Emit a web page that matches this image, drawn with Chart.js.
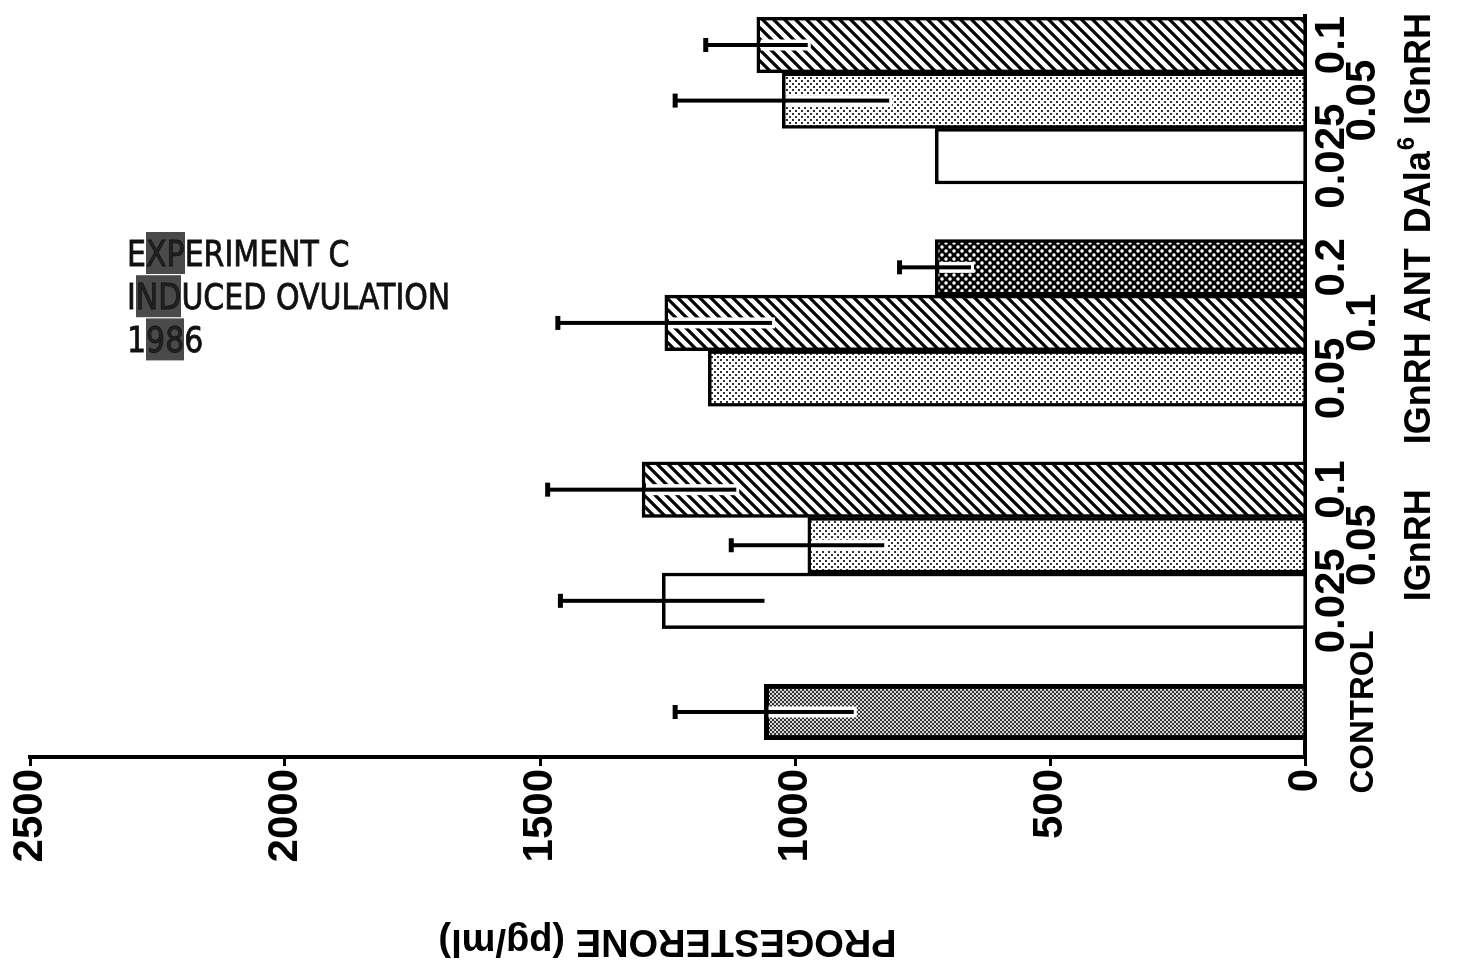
<!DOCTYPE html>
<html>
<head>
<meta charset="utf-8">
<title>Progesterone - Experiment C</title>
<script src="https://cdn.jsdelivr.net/npm/chart.js@4.4.1/dist/chart.umd.min.js"></script>
<style>
  html, body { margin: 0; padding: 0; background: #fff; overflow: hidden; }
  body { width: 1462px; height: 973px; position: relative; }
  /* the figure is printed turned a quarter turn, so the canvas is built upright and turned */
  #turn { position: absolute; left: 0; top: 0; width: 973px; height: 1462px;
          transform-origin: 0 0; transform: translateY(973px) rotate(-90deg); }
  #note { position: absolute; left: 127px; top: 232px; font-family: "DejaVu Sans", sans-serif;
          font-size: 30px; line-height: 36px; color: #111; -webkit-text-stroke: 0.7px #111;
          transform: scaleY(1.2); transform-origin: 0 0; white-space: nowrap; }
  .blot { background: #4a4a4a; color: #222; }
</style>
</head>
<body>
<div id="turn"><canvas id="progChart" width="973" height="1462"></canvas></div>
<div id="note">E<span class="blot">XP</span>ERIMENT C<br>I<span class="blot">ND</span>UCED OVULATION<br>1<span class="blot">98</span>6</div>
<script>
// data
const categories = ['CONTROL', '', '0.025', '0.05', '0.1', '', '0.05', '0.1', '0.2', '', '0.025', '0.05', '0.1'];
const progesterone = [1060, null, 1260, 975, 1300, null, 1170, 1255, 725, null, 725, 1025, 1075];
const sem = [175, null, 200, 150, 185, null, 0, 210, 70, null, 0, 210, 100];
const groupNames = ['IGnRH', 'IGnRH ANT', 'DAla⁶ IGnRH'];
const groupFirst = [2, 6, 10];
const groupLast = [4, 8, 12];
const valueTicks = [0, 500, 1000, 1500, 2000, 2500];

// looks
const fills = ['control', null, 'open', 'dots', 'hatch', null, 'dots', 'hatch', 'cross', null, 'open', 'dots', 'hatch'];
const labelRow = [1, 0, 0, 1, 0, 0, 0, 1, 0, 0, 0, 1, 0];
const FONT = '"Liberation Sans", Arial, sans-serif';

function makePattern(kind) {
    if (kind === 'open') return '#ffffff';
    const c = document.createElement('canvas');
    const g = c.getContext('2d');
    if (kind === 'dots') {
        c.width = c.height = 6;
        g.fillStyle = '#fff'; g.fillRect(0, 0, 6, 6);
        g.fillStyle = '#333'; g.fillRect(0, 0, 2, 2); g.fillRect(3, 3, 2, 2);
    } else if (kind === 'control') {
        c.width = c.height = 4;
        g.fillStyle = '#d8d8d8'; g.fillRect(0, 0, 4, 4);
        g.fillStyle = '#333'; g.fillRect(0, 0, 2, 2); g.fillRect(2, 2, 2, 2);
    } else if (kind === 'hatch') {
        c.width = c.height = 11;
        g.fillStyle = '#fff'; g.fillRect(0, 0, 11, 11);
        g.strokeStyle = '#000'; g.lineWidth = 3.2;
        g.beginPath();
        g.moveTo(0, 11); g.lineTo(11, 0);
        g.moveTo(-2, 2); g.lineTo(2, -2);
        g.moveTo(9, 13); g.lineTo(13, 9);
        g.stroke();
    } else if (kind === 'cross') {
        c.width = c.height = 8;
        g.fillStyle = '#000'; g.fillRect(0, 0, 8, 8);
        g.fillStyle = '#fff';
        g.beginPath(); g.arc(2, 2, 1.8, 0, Math.PI * 2); g.fill();
        g.beginPath(); g.arc(6, 6, 1.8, 0, Math.PI * 2); g.fill();
    }
    return g.createPattern(c, 'repeat');
}

const patterns = {};
['open', 'dots', 'control', 'hatch', 'cross'].forEach(k => patterns[k] = makePattern(k));

const barData = [];
progesterone.forEach((v, i) => {
    if (v !== null) barData.push({x: i, y: v, err: sem[i]});
});

// error bars: line through the bar end, cap on the outer end
const errorBars = {
    id: 'errorBars',
    afterDatasetsDraw(chart) {
        const meta = chart.getDatasetMeta(0);
        const y = chart.scales.y;
        const ctx = chart.ctx;
        ctx.save();
        meta.data.forEach((bar, i) => {
            const d = chart.data.datasets[0].data[i];
            if (!d.err) return;
            const hi = y.getPixelForValue(d.y + d.err);
            const lo = y.getPixelForValue(d.y - d.err);
            if (fills[d.x] !== 'open') {
                ctx.strokeStyle = '#fff';
                ctx.lineWidth = 11;
                ctx.beginPath(); ctx.moveTo(bar.x, bar.y + 4); ctx.lineTo(bar.x, lo + 3); ctx.stroke();
            }
            ctx.strokeStyle = '#000';
            ctx.lineWidth = 4;
            ctx.beginPath(); ctx.moveTo(bar.x, hi); ctx.lineTo(bar.x, lo); ctx.stroke();
            ctx.lineWidth = 5;
            ctx.beginPath(); ctx.moveTo(bar.x - 7, hi); ctx.lineTo(bar.x + 7, hi); ctx.stroke();
        });
        ctx.restore();
    }
};

// split a group name so the "6" after DAla can be raised
function runsOf(name) {
    const runs = [];
    name.split('⁶').forEach((part, j) => {
        if (j > 0) runs.push({t: '6', sup: true});
        if (part) runs.push({t: part, sup: false});
    });
    return runs;
}

// group names under the dose labels, kept apart from each other
const groupLabels = {
    id: 'groupLabels',
    afterDraw(chart) {
        const x = chart.scales.x;
        const ctx = chart.ctx;
        const big = 'bold 36px ' + FONT;
        const small = 'bold 24px ' + FONT;
        ctx.save();
        ctx.fillStyle = '#000';
        ctx.textBaseline = 'middle';
        ctx.textAlign = 'left';
        let limit = chart.width - 13;
        for (let g = groupNames.length - 1; g >= 0; g--) {
            const runs = runsOf(groupNames[g]);
            let w = 0;
            runs.forEach(r => {
                ctx.font = r.sup ? small : big;
                r.w = ctx.measureText(r.t).width + (r.sup ? 3 : 0);
                w += r.w;
            });
            let cx = x.getPixelForValue((groupFirst[g] + groupLast[g]) / 2);
            cx = Math.min(cx, limit - w / 2);
            let px = cx - w / 2;
            limit = px - 15;
            const py = x.top + 115;
            runs.forEach(r => {
                ctx.font = r.sup ? small : big;
                ctx.fillText(r.t, px + (r.sup ? 1 : 0), r.sup ? py - 13 : py);
                px += r.w;
            });
        }
        ctx.restore();
    }
};

Chart.defaults.font.family = FONT;
Chart.defaults.font.weight = 'bold';
Chart.defaults.color = '#000';

new Chart('progChart', {
    type: 'bar',
    data: {
        datasets: [{
            data: barData,
            backgroundColor: (c) => patterns[fills[c.raw.x]],
            borderColor: '#000',
            borderWidth: (c) => fills[c.raw.x] === 'control' ? 5 : 3.5,
            borderSkipped: 'start',
            barPercentage: 1,
            categoryPercentage: 1
        }]
    },
    options: {
        responsive: false,
        animation: false,
        devicePixelRatio: 1,
        layout: {padding: {top: 30, right: 15, left: 0, bottom: 0}},
        plugins: {
            legend: {display: false},
            tooltip: {enabled: false}
        },
        scales: {
            x: {
                type: 'linear',
                position: 'bottom',
                min: -0.81,
                max: 12.54,
                offset: false,
                afterBuildTicks: (s) => { s.ticks = categories.map((_, i) => ({value: i})); },
                afterFit: (s) => { s.height = 157; },
                grid: {display: false, drawTicks: false},
                border: {display: true, color: '#000', width: 4},
                ticks: {
                    autoSkip: false,
                    maxRotation: 0,
                    minRotation: 0,
                    padding: 12,
                    color: '#000',
                    font: (c) => ({
                        size: categories[c.index] === 'CONTROL' ? 33 : 42,
                        weight: 'bold',
                        lineHeight: '31px'
                    }),
                    callback: (value) => {
                        const i = Math.round(value);
                        const t = categories[i] || '';
                        return labelRow[i] ? ['', t] : t;
                    }
                }
            },
            y: {
                min: 0,
                max: 2500,
                afterBuildTicks: (s) => { s.ticks = valueTicks.map(v => ({value: v})); },
                afterFit: (s) => { s.width = 216; },
                grid: {display: true, drawOnChartArea: false, drawTicks: true, tickLength: 9, color: '#000', lineWidth: 3},
                border: {display: true, color: '#000', width: 4},
                ticks: {
                    padding: 3,
                    color: '#000',
                    font: {size: 42, weight: 'bold'},
                    callback: (v) => String(v)
                },
                title: {
                    display: true,
                    text: 'PROGESTERONE (pg/ml)',
                    color: '#000',
                    font: {size: 38, weight: 'bold', lineHeight: 1.2},
                    padding: {top: 10, bottom: 0}
                }
            }
        }
    },
    plugins: [errorBars, groupLabels]
});
</script>
</body>
</html>
